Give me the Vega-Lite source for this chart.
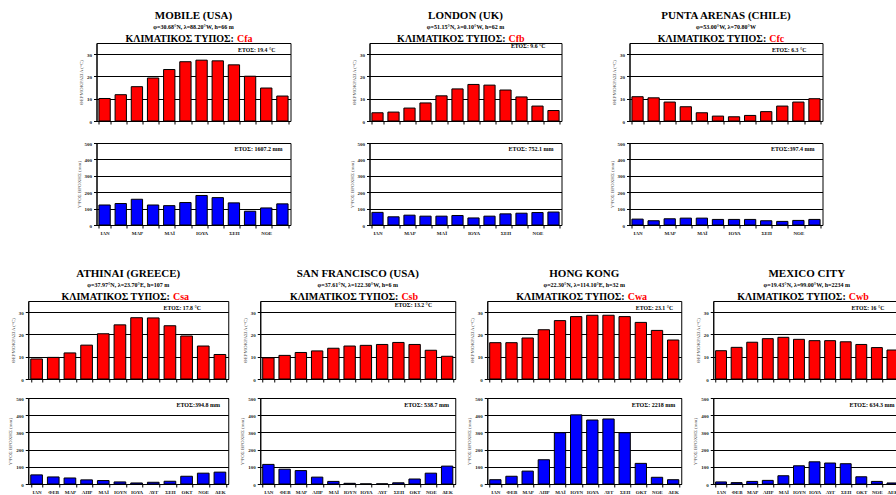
{
  "$schema": "https://vega.github.io/schema/vega-lite/v6.json",
  "padding": {"left": 7, "top": 9, "right": 0, "bottom": 0},
  "background": "white",
  "datasets": {
    "climate": [
      {"station": "MOB", "month": "ΙΑΝ", "temp": 10.1, "precip": 122},
      {"station": "MOB", "month": "ΦΕΒ", "temp": 11.8, "precip": 131},
      {"station": "MOB", "month": "ΜΑΡ", "temp": 15.4, "precip": 157},
      {"station": "MOB", "month": "ΑΠΡ", "temp": 19.3, "precip": 122},
      {"station": "MOB", "month": "ΜΑΪ", "temp": 23.1, "precip": 118},
      {"station": "MOB", "month": "ΙΟΥΝ", "temp": 26.6, "precip": 137},
      {"station": "MOB", "month": "ΙΟΥΛ", "temp": 27.3, "precip": 180},
      {"station": "MOB", "month": "ΑΥΓ", "temp": 27.0, "precip": 167},
      {"station": "MOB", "month": "ΣΕΠ", "temp": 25.2, "precip": 135},
      {"station": "MOB", "month": "ΟΚΤ", "temp": 20.1, "precip": 84},
      {"station": "MOB", "month": "ΝΟΕ", "temp": 14.8, "precip": 104},
      {"station": "MOB", "month": "ΔΕΚ", "temp": 11.2, "precip": 129},
      {"station": "LON", "month": "ΙΑΝ", "temp": 3.7, "precip": 77},
      {"station": "LON", "month": "ΦΕΒ", "temp": 4.0, "precip": 50},
      {"station": "LON", "month": "ΜΑΡ", "temp": 5.8, "precip": 60},
      {"station": "LON", "month": "ΑΠΡ", "temp": 8.1, "precip": 54},
      {"station": "LON", "month": "ΜΑΪ", "temp": 11.3, "precip": 54},
      {"station": "LON", "month": "ΙΟΥΝ", "temp": 14.4, "precip": 58},
      {"station": "LON", "month": "ΙΟΥΛ", "temp": 16.4, "precip": 43},
      {"station": "LON", "month": "ΑΥΓ", "temp": 16.1, "precip": 54},
      {"station": "LON", "month": "ΣΕΠ", "temp": 13.9, "precip": 68},
      {"station": "LON", "month": "ΟΚΤ", "temp": 10.8, "precip": 72},
      {"station": "LON", "month": "ΝΟΕ", "temp": 6.7, "precip": 76},
      {"station": "LON", "month": "ΔΕΚ", "temp": 4.7, "precip": 79},
      {"station": "PUN", "month": "ΙΑΝ", "temp": 10.9, "precip": 36},
      {"station": "PUN", "month": "ΦΕΒ", "temp": 10.4, "precip": 26},
      {"station": "PUN", "month": "ΜΑΡ", "temp": 8.5, "precip": 38},
      {"station": "PUN", "month": "ΑΠΡ", "temp": 6.4, "precip": 42},
      {"station": "PUN", "month": "ΜΑΪ", "temp": 3.7, "precip": 42},
      {"station": "PUN", "month": "ΙΟΥΝ", "temp": 2.2, "precip": 34},
      {"station": "PUN", "month": "ΙΟΥΛ", "temp": 1.9, "precip": 34},
      {"station": "PUN", "month": "ΑΥΓ", "temp": 2.5, "precip": 34},
      {"station": "PUN", "month": "ΣΕΠ", "temp": 4.2, "precip": 26},
      {"station": "PUN", "month": "ΟΚΤ", "temp": 6.7, "precip": 22},
      {"station": "PUN", "month": "ΝΟΕ", "temp": 8.5, "precip": 28},
      {"station": "PUN", "month": "ΔΕΚ", "temp": 10.0, "precip": 34},
      {"station": "ATH", "month": "ΙΑΝ", "temp": 9.0, "precip": 53},
      {"station": "ATH", "month": "ΦΕΒ", "temp": 9.7, "precip": 41},
      {"station": "ATH", "month": "ΜΑΡ", "temp": 11.7, "precip": 35},
      {"station": "ATH", "month": "ΑΠΡ", "temp": 15.2, "precip": 24},
      {"station": "ATH", "month": "ΜΑΪ", "temp": 20.3, "precip": 20},
      {"station": "ATH", "month": "ΙΟΥΝ", "temp": 24.3, "precip": 12},
      {"station": "ATH", "month": "ΙΟΥΛ", "temp": 27.5, "precip": 6},
      {"station": "ATH", "month": "ΑΥΓ", "temp": 27.4, "precip": 10},
      {"station": "ATH", "month": "ΣΕΠ", "temp": 23.9, "precip": 16},
      {"station": "ATH", "month": "ΟΚΤ", "temp": 19.3, "precip": 45},
      {"station": "ATH", "month": "ΝΟΕ", "temp": 14.8, "precip": 63},
      {"station": "ATH", "month": "ΔΕΚ", "temp": 11.0, "precip": 69},
      {"station": "SFO", "month": "ΙΑΝ", "temp": 9.5, "precip": 114},
      {"station": "SFO", "month": "ΦΕΒ", "temp": 10.6, "precip": 86},
      {"station": "SFO", "month": "ΜΑΡ", "temp": 11.9, "precip": 78},
      {"station": "SFO", "month": "ΑΠΡ", "temp": 12.6, "precip": 40},
      {"station": "SFO", "month": "ΜΑΪ", "temp": 13.8, "precip": 15},
      {"station": "SFO", "month": "ΙΟΥΝ", "temp": 14.8, "precip": 4},
      {"station": "SFO", "month": "ΙΟΥΛ", "temp": 15.1, "precip": 0.5},
      {"station": "SFO", "month": "ΑΥΓ", "temp": 15.5, "precip": 1},
      {"station": "SFO", "month": "ΣΕΠ", "temp": 16.4, "precip": 7},
      {"station": "SFO", "month": "ΟΚΤ", "temp": 15.5, "precip": 29},
      {"station": "SFO", "month": "ΝΟΕ", "temp": 12.9, "precip": 63},
      {"station": "SFO", "month": "ΔΕΚ", "temp": 10.2, "precip": 104},
      {"station": "HKG", "month": "ΙΑΝ", "temp": 16.3, "precip": 25},
      {"station": "HKG", "month": "ΦΕΒ", "temp": 16.3, "precip": 45},
      {"station": "HKG", "month": "ΜΑΡ", "temp": 18.4, "precip": 75},
      {"station": "HKG", "month": "ΑΠΡ", "temp": 22.1, "precip": 141},
      {"station": "HKG", "month": "ΜΑΪ", "temp": 26.2, "precip": 298},
      {"station": "HKG", "month": "ΙΟΥΝ", "temp": 28.0, "precip": 402},
      {"station": "HKG", "month": "ΙΟΥΛ", "temp": 28.6, "precip": 372},
      {"station": "HKG", "month": "ΑΥΓ", "temp": 28.6, "precip": 378},
      {"station": "HKG", "month": "ΣΕΠ", "temp": 28.0, "precip": 298},
      {"station": "HKG", "month": "ΟΚΤ", "temp": 25.4, "precip": 120},
      {"station": "HKG", "month": "ΝΟΕ", "temp": 21.8, "precip": 39},
      {"station": "HKG", "month": "ΔΕΚ", "temp": 17.5, "precip": 25},
      {"station": "MEX", "month": "ΙΑΝ", "temp": 12.7, "precip": 12},
      {"station": "MEX", "month": "ΦΕΒ", "temp": 14.2, "precip": 8},
      {"station": "MEX", "month": "ΜΑΡ", "temp": 16.5, "precip": 15},
      {"station": "MEX", "month": "ΑΠΡ", "temp": 18.1, "precip": 21},
      {"station": "MEX", "month": "ΜΑΪ", "temp": 18.7, "precip": 48},
      {"station": "MEX", "month": "ΙΟΥΝ", "temp": 17.8, "precip": 106},
      {"station": "MEX", "month": "ΙΟΥΛ", "temp": 17.2, "precip": 129},
      {"station": "MEX", "month": "ΑΥΓ", "temp": 17.2, "precip": 122},
      {"station": "MEX", "month": "ΣΕΠ", "temp": 16.7, "precip": 118},
      {"station": "MEX", "month": "ΟΚΤ", "temp": 15.5, "precip": 42},
      {"station": "MEX", "month": "ΝΟΕ", "temp": 14.1, "precip": 15},
      {"station": "MEX", "month": "ΔΕΚ", "temp": 13.0, "precip": 6}
    ],
    "info": [
      {"station": "MOB", "code": "Cfa", "tYear": "ΕΤΟΣ: 19.4 °C", "pYear": "ΕΤΟΣ: 1607.2 mm"},
      {"station": "LON", "code": "Cfb", "tYear": "ΕΤΟΣ: 9.6 °C", "pYear": "ΕΤΟΣ: 752.1 mm"},
      {"station": "PUN", "code": "Cfc", "tYear": "ΕΤΟΣ: 6.3 °C", "pYear": "ΕΤΟΣ:397.4 mm"},
      {"station": "ATH", "code": "Csa", "tYear": "ΕΤΟΣ: 17.8 °C", "pYear": "ΕΤΟΣ:394.8 mm"},
      {"station": "SFO", "code": "Csb", "tYear": "ΕΤΟΣ: 13.2 °C", "pYear": "ΕΤΟΣ: 538.7 mm"},
      {"station": "HKG", "code": "Cwa", "tYear": "ΕΤΟΣ: 23.1 °C", "pYear": "ΕΤΟΣ: 2218 mm"},
      {"station": "MEX", "code": "Cwb", "tYear": "ΕΤΟΣ: 16 °C", "pYear": "ΕΤΟΣ: 634.3 mm"}
    ]
  },
  "spacing": 31,
  "center": true,
  "vconcat": [
    {
      "spacing": 57,
      "hconcat": [
        {
          "spacing": 15,
          "vconcat": [
            {
              "width": 194, "height": 78,
              "title": {"text": "MOBILE (USA)", "subtitle": "φ=30.68°N, λ=88.20°W, h=66 m"},
              "layer": [
                {"data": {"name": "climate"}, "transform": [{"filter": "datum.station === 'MOB'"}],
                 "mark": {"type": "bar", "fill": "#ff0000", "stroke": "#000", "strokeWidth": 1},
                 "encoding": {
                   "x": {"field": "month", "type": "nominal", "scale": {"domain": ["ΙΑΝ","ΦΕΒ","ΜΑΡ","ΑΠΡ","ΜΑΪ","ΙΟΥΝ","ΙΟΥΛ","ΑΥΓ","ΣΕΠ","ΟΚΤ","ΝΟΕ","ΔΕΚ"], "paddingInner": 0.3, "paddingOuter": 0.15}, "axis": {"labels": false, "title": null}},
                   "y": {"field": "temp", "type": "quantitative", "scale": {"domain": [0, 35], "nice": false}, "axis": {"values": [0, 10, 20, 30], "tickCount": 20, "title": "ΘΕΡΜΟΚΡΑΣΙΑ (°C)"}}
                 }},
                {"data": {"name": "info"}, "transform": [{"filter": "datum.station === 'MOB'"}],
                 "mark": {"type": "text", "align": "right", "baseline": "alphabetic", "dy": -1, "fontSize": 10, "fontWeight": "bold"},
                 "encoding": {"x": {"datum": "ΣΕΠ"}, "y": {"datum": 35}, "text": {"value": "ΚΛΙΜΑΤΙΚΟΣ ΤΥΠΟΣ:"}}},
                {"data": {"name": "info"}, "transform": [{"filter": "datum.station === 'MOB'"}],
                 "mark": {"type": "text", "align": "left", "baseline": "alphabetic", "dx": 3, "dy": -1, "fontSize": 10, "fontWeight": "bold", "color": "#ff0000"},
                 "encoding": {"x": {"datum": "ΣΕΠ"}, "y": {"datum": 35}, "text": {"field": "code"}}},
                {"data": {"name": "info"}, "transform": [{"filter": "datum.station === 'MOB'"}],
                 "mark": {"type": "text", "align": "right", "baseline": "middle", "dx": -7, "fontSize": 5.8, "fontWeight": "bold"},
                 "encoding": {"x": {"datum": "ΔΕΚ"}, "y": {"datum": 32}, "text": {"field": "tYear"}}}
              ]
            },
            {
              "width": 194, "height": 82,
              "layer": [
                {"data": {"name": "climate"}, "transform": [{"filter": "datum.station === 'MOB'"}],
                 "mark": {"type": "bar", "fill": "#0000ff", "stroke": "#000", "strokeWidth": 1},
                 "encoding": {
                   "x": {"field": "month", "type": "nominal", "scale": {"domain": ["ΙΑΝ","ΦΕΒ","ΜΑΡ","ΑΠΡ","ΜΑΪ","ΙΟΥΝ","ΙΟΥΛ","ΑΥΓ","ΣΕΠ","ΟΚΤ","ΝΟΕ","ΔΕΚ"], "paddingInner": 0.3, "paddingOuter": 0.15}, "axis": {"title": null, "labelExpr": "indexof(['ΙΑΝ','ΜΑΡ','ΜΑΪ','ΙΟΥΛ','ΣΕΠ','ΝΟΕ'], datum.value) >= 0 ? datum.value : ''"}},
                   "y": {"field": "precip", "type": "quantitative", "scale": {"domain": [0, 500], "nice": false}, "axis": {"values": [0, 100, 200, 300, 400, 500], "tickCount": 20, "title": "ΥΨΟΣ ΒΡΟΧΗΣ (mm)"}}
                 }},
                {"data": {"name": "info"}, "transform": [{"filter": "datum.station === 'MOB'"}],
                 "mark": {"type": "text", "align": "right", "baseline": "middle", "dx": 0, "fontSize": 6, "fontWeight": "bold"},
                 "encoding": {"x": {"datum": "ΔΕΚ"}, "y": {"datum": 462}, "text": {"field": "pYear"}}}
              ]
            }
          ]
        },
        {
          "spacing": 46,
          "hconcat": [
            {
              "spacing": 15,
              "vconcat": [
                {
                  "width": 192, "height": 78,
                  "title": {"text": "LONDON (UK)", "subtitle": "φ=51.15°N, λ=0.10°W, h=62 m"},
                  "layer": [
                    {"data": {"name": "climate"}, "transform": [{"filter": "datum.station === 'LON'"}],
                     "mark": {"type": "bar", "fill": "#ff0000", "stroke": "#000", "strokeWidth": 1},
                     "encoding": {
                       "x": {"field": "month", "type": "nominal", "scale": {"domain": ["ΙΑΝ","ΦΕΒ","ΜΑΡ","ΑΠΡ","ΜΑΪ","ΙΟΥΝ","ΙΟΥΛ","ΑΥΓ","ΣΕΠ","ΟΚΤ","ΝΟΕ","ΔΕΚ"], "paddingInner": 0.3, "paddingOuter": 0.15}, "axis": {"labels": false, "title": null}},
                       "y": {"field": "temp", "type": "quantitative", "scale": {"domain": [0, 35], "nice": false}, "axis": {"values": [0, 10, 20, 30], "tickCount": 20, "title": "ΘΕΡΜΟΚΡΑΣΙΑ (°C)"}}
                     }},
                    {"data": {"name": "info"}, "transform": [{"filter": "datum.station === 'LON'"}],
                     "mark": {"type": "text", "align": "right", "baseline": "alphabetic", "dy": -1, "fontSize": 10, "fontWeight": "bold"},
                     "encoding": {"x": {"datum": "ΣΕΠ"}, "y": {"datum": 35}, "text": {"value": "ΚΛΙΜΑΤΙΚΟΣ ΤΥΠΟΣ:"}}},
                    {"data": {"name": "info"}, "transform": [{"filter": "datum.station === 'LON'"}],
                     "mark": {"type": "text", "align": "left", "baseline": "alphabetic", "dx": 3, "dy": -1, "fontSize": 10, "fontWeight": "bold", "color": "#ff0000"},
                     "encoding": {"x": {"datum": "ΣΕΠ"}, "y": {"datum": 35}, "text": {"field": "code"}}},
                    {"data": {"name": "info"}, "transform": [{"filter": "datum.station === 'LON'"}],
                     "mark": {"type": "text", "align": "right", "baseline": "middle", "dx": -8, "fontSize": 5.8, "fontWeight": "bold"},
                     "encoding": {"x": {"datum": "ΔΕΚ"}, "y": {"datum": 33.5}, "text": {"field": "tYear"}}}
                  ]
                },
                {
                  "width": 192, "height": 82,
                  "layer": [
                    {"data": {"name": "climate"}, "transform": [{"filter": "datum.station === 'LON'"}],
                     "mark": {"type": "bar", "fill": "#0000ff", "stroke": "#000", "strokeWidth": 1},
                     "encoding": {
                       "x": {"field": "month", "type": "nominal", "scale": {"domain": ["ΙΑΝ","ΦΕΒ","ΜΑΡ","ΑΠΡ","ΜΑΪ","ΙΟΥΝ","ΙΟΥΛ","ΑΥΓ","ΣΕΠ","ΟΚΤ","ΝΟΕ","ΔΕΚ"], "paddingInner": 0.3, "paddingOuter": 0.15}, "axis": {"title": null, "labelExpr": "indexof(['ΙΑΝ','ΜΑΡ','ΜΑΪ','ΙΟΥΛ','ΣΕΠ','ΝΟΕ'], datum.value) >= 0 ? datum.value : ''"}},
                       "y": {"field": "precip", "type": "quantitative", "scale": {"domain": [0, 500], "nice": false}, "axis": {"values": [0, 100, 200, 300, 400, 500], "tickCount": 20, "title": "ΥΨΟΣ ΒΡΟΧΗΣ (mm)"}}
                     }},
                    {"data": {"name": "info"}, "transform": [{"filter": "datum.station === 'LON'"}],
                     "mark": {"type": "text", "align": "right", "baseline": "middle", "dx": 0, "fontSize": 6, "fontWeight": "bold"},
                     "encoding": {"x": {"datum": "ΔΕΚ"}, "y": {"datum": 462}, "text": {"field": "pYear"}}}
                  ]
                }
              ]
            },
            {
              "spacing": 0,
              "hconcat": [
                {
                  "spacing": 15,
                  "vconcat": [
                    {
                      "width": 193, "height": 78,
                      "title": {"text": "PUNTA ARENAS (CHILE)", "subtitle": "φ=53.00°W, λ=70.80°W"},
                      "layer": [
                        {"data": {"name": "climate"}, "transform": [{"filter": "datum.station === 'PUN'"}],
                         "mark": {"type": "bar", "fill": "#ff0000", "stroke": "#000", "strokeWidth": 1},
                         "encoding": {
                           "x": {"field": "month", "type": "nominal", "scale": {"domain": ["ΙΑΝ","ΦΕΒ","ΜΑΡ","ΑΠΡ","ΜΑΪ","ΙΟΥΝ","ΙΟΥΛ","ΑΥΓ","ΣΕΠ","ΟΚΤ","ΝΟΕ","ΔΕΚ"], "paddingInner": 0.3, "paddingOuter": 0.15}, "axis": {"labels": false, "title": null}},
                           "y": {"field": "temp", "type": "quantitative", "scale": {"domain": [0, 35], "nice": false}, "axis": {"values": [0, 10, 20, 30], "tickCount": 20, "title": "ΘΕΡΜΟΚΡΑΣΙΑ (°C)"}}
                         }},
                        {"data": {"name": "info"}, "transform": [{"filter": "datum.station === 'PUN'"}],
                         "mark": {"type": "text", "align": "right", "baseline": "alphabetic", "dy": -1, "fontSize": 10, "fontWeight": "bold"},
                         "encoding": {"x": {"datum": "ΣΕΠ"}, "y": {"datum": 35}, "text": {"value": "ΚΛΙΜΑΤΙΚΟΣ ΤΥΠΟΣ:"}}},
                        {"data": {"name": "info"}, "transform": [{"filter": "datum.station === 'PUN'"}],
                         "mark": {"type": "text", "align": "left", "baseline": "alphabetic", "dx": 3, "dy": -1, "fontSize": 10, "fontWeight": "bold", "color": "#ff0000"},
                         "encoding": {"x": {"datum": "ΣΕΠ"}, "y": {"datum": 35}, "text": {"field": "code"}}},
                        {"data": {"name": "info"}, "transform": [{"filter": "datum.station === 'PUN'"}],
                         "mark": {"type": "text", "align": "right", "baseline": "middle", "dx": -8, "fontSize": 5.8, "fontWeight": "bold"},
                         "encoding": {"x": {"datum": "ΔΕΚ"}, "y": {"datum": 32}, "text": {"field": "tYear"}}}
                      ]
                    },
                    {
                      "width": 193, "height": 82,
                      "layer": [
                        {"data": {"name": "climate"}, "transform": [{"filter": "datum.station === 'PUN'"}],
                         "mark": {"type": "bar", "fill": "#0000ff", "stroke": "#000", "strokeWidth": 1},
                         "encoding": {
                           "x": {"field": "month", "type": "nominal", "scale": {"domain": ["ΙΑΝ","ΦΕΒ","ΜΑΡ","ΑΠΡ","ΜΑΪ","ΙΟΥΝ","ΙΟΥΛ","ΑΥΓ","ΣΕΠ","ΟΚΤ","ΝΟΕ","ΔΕΚ"], "paddingInner": 0.3, "paddingOuter": 0.15}, "axis": {"title": null, "labelExpr": "indexof(['ΙΑΝ','ΜΑΡ','ΜΑΪ','ΙΟΥΛ','ΣΕΠ','ΝΟΕ'], datum.value) >= 0 ? datum.value : ''"}},
                           "y": {"field": "precip", "type": "quantitative", "scale": {"domain": [0, 500], "nice": false}, "axis": {"values": [0, 100, 200, 300, 400, 500], "tickCount": 20, "title": "ΥΨΟΣ ΒΡΟΧΗΣ (mm)"}}
                         }},
                        {"data": {"name": "info"}, "transform": [{"filter": "datum.station === 'PUN'"}],
                         "mark": {"type": "text", "align": "right", "baseline": "middle", "dx": 0, "fontSize": 6, "fontWeight": "bold"},
                         "encoding": {"x": {"datum": "ΔΕΚ"}, "y": {"datum": 462}, "text": {"field": "pYear"}}}
                      ]
                    }
                  ]
                },
                {
                  "width": 9, "height": 10,
                  "view": {"stroke": null},
                  "data": {"values": []},
                  "mark": {"type": "point", "opacity": 0}
                }
              ]
            }
          ]
        }
      ]
    },
    {
      "spacing": 10,
      "hconcat": [
        {
          "spacing": 12,
          "vconcat": [
            {
              "width": 200, "height": 78,
              "title": {"text": "ATHINAI (GREECE)", "subtitle": "φ=37.97°N, λ=23.70°E, h=107 m"},
              "layer": [
                {"data": {"name": "climate"}, "transform": [{"filter": "datum.station === 'ATH'"}],
                 "mark": {"type": "bar", "fill": "#ff0000", "stroke": "#000", "strokeWidth": 1},
                 "encoding": {
                   "x": {"field": "month", "type": "nominal", "scale": {"domain": ["ΙΑΝ","ΦΕΒ","ΜΑΡ","ΑΠΡ","ΜΑΪ","ΙΟΥΝ","ΙΟΥΛ","ΑΥΓ","ΣΕΠ","ΟΚΤ","ΝΟΕ","ΔΕΚ"], "paddingInner": 0.3, "paddingOuter": 0.15}, "axis": {"labels": false, "title": null}},
                   "y": {"field": "temp", "type": "quantitative", "scale": {"domain": [0, 35], "nice": false}, "axis": {"values": [0, 10, 20, 30], "tickCount": 20, "title": "ΘΕΡΜΟΚΡΑΣΙΑ (°C)"}}
                 }},
                {"data": {"name": "info"}, "transform": [{"filter": "datum.station === 'ATH'"}],
                 "mark": {"type": "text", "align": "right", "baseline": "alphabetic", "dy": -1, "fontSize": 10, "fontWeight": "bold"},
                 "encoding": {"x": {"datum": "ΣΕΠ"}, "y": {"datum": 35}, "text": {"value": "ΚΛΙΜΑΤΙΚΟΣ ΤΥΠΟΣ:"}}},
                {"data": {"name": "info"}, "transform": [{"filter": "datum.station === 'ATH'"}],
                 "mark": {"type": "text", "align": "left", "baseline": "alphabetic", "dx": 3, "dy": -1, "fontSize": 10, "fontWeight": "bold", "color": "#ff0000"},
                 "encoding": {"x": {"datum": "ΣΕΠ"}, "y": {"datum": 35}, "text": {"field": "code"}}},
                {"data": {"name": "info"}, "transform": [{"filter": "datum.station === 'ATH'"}],
                 "mark": {"type": "text", "align": "right", "baseline": "middle", "dx": -19, "fontSize": 5.8, "fontWeight": "bold"},
                 "encoding": {"x": {"datum": "ΔΕΚ"}, "y": {"datum": 32}, "text": {"field": "tYear"}}}
              ]
            },
            {
              "width": 200, "height": 86,
              "layer": [
                {"data": {"name": "climate"}, "transform": [{"filter": "datum.station === 'ATH'"}],
                 "mark": {"type": "bar", "fill": "#0000ff", "stroke": "#000", "strokeWidth": 1},
                 "encoding": {
                   "x": {"field": "month", "type": "nominal", "scale": {"domain": ["ΙΑΝ","ΦΕΒ","ΜΑΡ","ΑΠΡ","ΜΑΪ","ΙΟΥΝ","ΙΟΥΛ","ΑΥΓ","ΣΕΠ","ΟΚΤ","ΝΟΕ","ΔΕΚ"], "paddingInner": 0.3, "paddingOuter": 0.15}, "axis": {"title": null}},
                   "y": {"field": "precip", "type": "quantitative", "scale": {"domain": [0, 500], "nice": false}, "axis": {"values": [0, 100, 200, 300, 400, 500], "tickCount": 20, "title": "ΥΨΟΣ ΒΡΟΧΗΣ (mm)"}}
                 }},
                {"data": {"name": "info"}, "transform": [{"filter": "datum.station === 'ATH'"}],
                 "mark": {"type": "text", "align": "right", "baseline": "middle", "dx": 0, "fontSize": 6, "fontWeight": "bold"},
                 "encoding": {"x": {"datum": "ΔΕΚ"}, "y": {"datum": 462}, "text": {"field": "pYear"}}}
              ]
            }
          ]
        },
        {
          "spacing": 12,
          "vconcat": [
            {
              "width": 195, "height": 78,
              "title": {"text": "SAN FRANCISCO (USA)", "subtitle": "φ=37.61°N, λ=122.30°W, h=6 m"},
              "layer": [
                {"data": {"name": "climate"}, "transform": [{"filter": "datum.station === 'SFO'"}],
                 "mark": {"type": "bar", "fill": "#ff0000", "stroke": "#000", "strokeWidth": 1},
                 "encoding": {
                   "x": {"field": "month", "type": "nominal", "scale": {"domain": ["ΙΑΝ","ΦΕΒ","ΜΑΡ","ΑΠΡ","ΜΑΪ","ΙΟΥΝ","ΙΟΥΛ","ΑΥΓ","ΣΕΠ","ΟΚΤ","ΝΟΕ","ΔΕΚ"], "paddingInner": 0.3, "paddingOuter": 0.15}, "axis": {"labels": false, "title": null}},
                   "y": {"field": "temp", "type": "quantitative", "scale": {"domain": [0, 35], "nice": false}, "axis": {"values": [0, 10, 20, 30], "tickCount": 20, "title": "ΘΕΡΜΟΚΡΑΣΙΑ (°C)"}}
                 }},
                {"data": {"name": "info"}, "transform": [{"filter": "datum.station === 'SFO'"}],
                 "mark": {"type": "text", "align": "right", "baseline": "alphabetic", "dy": -1, "fontSize": 10, "fontWeight": "bold"},
                 "encoding": {"x": {"datum": "ΣΕΠ"}, "y": {"datum": 35}, "text": {"value": "ΚΛΙΜΑΤΙΚΟΣ ΤΥΠΟΣ:"}}},
                {"data": {"name": "info"}, "transform": [{"filter": "datum.station === 'SFO'"}],
                 "mark": {"type": "text", "align": "left", "baseline": "alphabetic", "dx": 3, "dy": -1, "fontSize": 10, "fontWeight": "bold", "color": "#ff0000"},
                 "encoding": {"x": {"datum": "ΣΕΠ"}, "y": {"datum": 35}, "text": {"field": "code"}}},
                {"data": {"name": "info"}, "transform": [{"filter": "datum.station === 'SFO'"}],
                 "mark": {"type": "text", "align": "right", "baseline": "middle", "dx": -15, "fontSize": 5.8, "fontWeight": "bold"},
                 "encoding": {"x": {"datum": "ΔΕΚ"}, "y": {"datum": 33}, "text": {"field": "tYear"}}}
              ]
            },
            {
              "width": 195, "height": 86,
              "layer": [
                {"data": {"name": "climate"}, "transform": [{"filter": "datum.station === 'SFO'"}],
                 "mark": {"type": "bar", "fill": "#0000ff", "stroke": "#000", "strokeWidth": 1},
                 "encoding": {
                   "x": {"field": "month", "type": "nominal", "scale": {"domain": ["ΙΑΝ","ΦΕΒ","ΜΑΡ","ΑΠΡ","ΜΑΪ","ΙΟΥΝ","ΙΟΥΛ","ΑΥΓ","ΣΕΠ","ΟΚΤ","ΝΟΕ","ΔΕΚ"], "paddingInner": 0.3, "paddingOuter": 0.15}, "axis": {"title": null}},
                   "y": {"field": "precip", "type": "quantitative", "scale": {"domain": [0, 500], "nice": false}, "axis": {"values": [0, 100, 200, 300, 400, 500], "tickCount": 20, "title": "ΥΨΟΣ ΒΡΟΧΗΣ (mm)"}}
                 }},
                {"data": {"name": "info"}, "transform": [{"filter": "datum.station === 'SFO'"}],
                 "mark": {"type": "text", "align": "right", "baseline": "middle", "dx": 2, "fontSize": 6, "fontWeight": "bold"},
                 "encoding": {"x": {"datum": "ΔΕΚ"}, "y": {"datum": 462}, "text": {"field": "pYear"}}}
              ]
            }
          ]
        },
        {
          "spacing": 12,
          "vconcat": [
            {
              "width": 194, "height": 78,
              "title": {"text": "HONG KONG", "subtitle": "φ=22.30°N, λ=114.10°E, h=32 m"},
              "layer": [
                {"data": {"name": "climate"}, "transform": [{"filter": "datum.station === 'HKG'"}],
                 "mark": {"type": "bar", "fill": "#ff0000", "stroke": "#000", "strokeWidth": 1},
                 "encoding": {
                   "x": {"field": "month", "type": "nominal", "scale": {"domain": ["ΙΑΝ","ΦΕΒ","ΜΑΡ","ΑΠΡ","ΜΑΪ","ΙΟΥΝ","ΙΟΥΛ","ΑΥΓ","ΣΕΠ","ΟΚΤ","ΝΟΕ","ΔΕΚ"], "paddingInner": 0.3, "paddingOuter": 0.15}, "axis": {"labels": false, "title": null}},
                   "y": {"field": "temp", "type": "quantitative", "scale": {"domain": [0, 35], "nice": false}, "axis": {"values": [0, 10, 20, 30], "tickCount": 20, "title": "ΘΕΡΜΟΚΡΑΣΙΑ (°C)"}}
                 }},
                {"data": {"name": "info"}, "transform": [{"filter": "datum.station === 'HKG'"}],
                 "mark": {"type": "text", "align": "right", "baseline": "alphabetic", "dy": -1, "fontSize": 10, "fontWeight": "bold"},
                 "encoding": {"x": {"datum": "ΣΕΠ"}, "y": {"datum": 35}, "text": {"value": "ΚΛΙΜΑΤΙΚΟΣ ΤΥΠΟΣ:"}}},
                {"data": {"name": "info"}, "transform": [{"filter": "datum.station === 'HKG'"}],
                 "mark": {"type": "text", "align": "left", "baseline": "alphabetic", "dx": 3, "dy": -1, "fontSize": 10, "fontWeight": "bold", "color": "#ff0000"},
                 "encoding": {"x": {"datum": "ΣΕΠ"}, "y": {"datum": 35}, "text": {"field": "code"}}},
                {"data": {"name": "info"}, "transform": [{"filter": "datum.station === 'HKG'"}],
                 "mark": {"type": "text", "align": "right", "baseline": "middle", "dx": 0, "fontSize": 5.8, "fontWeight": "bold"},
                 "encoding": {"x": {"datum": "ΔΕΚ"}, "y": {"datum": 32}, "text": {"field": "tYear"}}}
              ]
            },
            {
              "width": 194, "height": 86,
              "layer": [
                {"data": {"name": "climate"}, "transform": [{"filter": "datum.station === 'HKG'"}],
                 "mark": {"type": "bar", "fill": "#0000ff", "stroke": "#000", "strokeWidth": 1},
                 "encoding": {
                   "x": {"field": "month", "type": "nominal", "scale": {"domain": ["ΙΑΝ","ΦΕΒ","ΜΑΡ","ΑΠΡ","ΜΑΪ","ΙΟΥΝ","ΙΟΥΛ","ΑΥΓ","ΣΕΠ","ΟΚΤ","ΝΟΕ","ΔΕΚ"], "paddingInner": 0.3, "paddingOuter": 0.15}, "axis": {"title": null}},
                   "y": {"field": "precip", "type": "quantitative", "scale": {"domain": [0, 500], "nice": false}, "axis": {"values": [0, 100, 200, 300, 400, 500], "tickCount": 20, "title": "ΥΨΟΣ ΒΡΟΧΗΣ (mm)"}}
                 }},
                {"data": {"name": "info"}, "transform": [{"filter": "datum.station === 'HKG'"}],
                 "mark": {"type": "text", "align": "right", "baseline": "middle", "dx": 2, "fontSize": 6, "fontWeight": "bold"},
                 "encoding": {"x": {"datum": "ΔΕΚ"}, "y": {"datum": 460}, "text": {"field": "pYear"}}}
              ]
            }
          ]
        },
        {
          "spacing": 12,
          "vconcat": [
            {
              "width": 187, "height": 78,
              "title": {"text": "MEXICO CITY", "subtitle": "φ=19.43°N, λ=99.00°W, h=2234 m"},
              "layer": [
                {"data": {"name": "climate"}, "transform": [{"filter": "datum.station === 'MEX'"}],
                 "mark": {"type": "bar", "fill": "#ff0000", "stroke": "#000", "strokeWidth": 1},
                 "encoding": {
                   "x": {"field": "month", "type": "nominal", "scale": {"domain": ["ΙΑΝ","ΦΕΒ","ΜΑΡ","ΑΠΡ","ΜΑΪ","ΙΟΥΝ","ΙΟΥΛ","ΑΥΓ","ΣΕΠ","ΟΚΤ","ΝΟΕ","ΔΕΚ"], "paddingInner": 0.3, "paddingOuter": 0.15}, "axis": {"labels": false, "title": null}},
                   "y": {"field": "temp", "type": "quantitative", "scale": {"domain": [0, 35], "nice": false}, "axis": {"values": [0, 10, 20, 30], "tickCount": 20, "title": "ΘΕΡΜΟΚΡΑΣΙΑ (°C)"}}
                 }},
                {"data": {"name": "info"}, "transform": [{"filter": "datum.station === 'MEX'"}],
                 "mark": {"type": "text", "align": "right", "baseline": "alphabetic", "dy": -1, "fontSize": 10, "fontWeight": "bold"},
                 "encoding": {"x": {"datum": "ΣΕΠ"}, "y": {"datum": 35}, "text": {"value": "ΚΛΙΜΑΤΙΚΟΣ ΤΥΠΟΣ:"}}},
                {"data": {"name": "info"}, "transform": [{"filter": "datum.station === 'MEX'"}],
                 "mark": {"type": "text", "align": "left", "baseline": "alphabetic", "dx": 3, "dy": -1, "fontSize": 10, "fontWeight": "bold", "color": "#ff0000"},
                 "encoding": {"x": {"datum": "ΣΕΠ"}, "y": {"datum": 35}, "text": {"field": "code"}}},
                {"data": {"name": "info"}, "transform": [{"filter": "datum.station === 'MEX'"}],
                 "mark": {"type": "text", "align": "right", "baseline": "middle", "dx": -8, "fontSize": 5.8, "fontWeight": "bold"},
                 "encoding": {"x": {"datum": "ΔΕΚ"}, "y": {"datum": 32}, "text": {"field": "tYear"}}}
              ]
            },
            {
              "width": 187, "height": 86,
              "layer": [
                {"data": {"name": "climate"}, "transform": [{"filter": "datum.station === 'MEX'"}],
                 "mark": {"type": "bar", "fill": "#0000ff", "stroke": "#000", "strokeWidth": 1},
                 "encoding": {
                   "x": {"field": "month", "type": "nominal", "scale": {"domain": ["ΙΑΝ","ΦΕΒ","ΜΑΡ","ΑΠΡ","ΜΑΪ","ΙΟΥΝ","ΙΟΥΛ","ΑΥΓ","ΣΕΠ","ΟΚΤ","ΝΟΕ","ΔΕΚ"], "paddingInner": 0.3, "paddingOuter": 0.15}, "axis": {"title": null}},
                   "y": {"field": "precip", "type": "quantitative", "scale": {"domain": [0, 500], "nice": false}, "axis": {"values": [0, 100, 200, 300, 400, 500], "tickCount": 20, "title": "ΥΨΟΣ ΒΡΟΧΗΣ (mm)"}}
                 }},
                {"data": {"name": "info"}, "transform": [{"filter": "datum.station === 'MEX'"}],
                 "mark": {"type": "text", "align": "right", "baseline": "middle", "dx": 2, "fontSize": 6, "fontWeight": "bold"},
                 "encoding": {"x": {"datum": "ΔΕΚ"}, "y": {"datum": 462}, "text": {"field": "pYear"}}}
              ]
            }
          ]
        }
      ]
    }
  ],
  "config": {
    "font": "Liberation Serif",
    "view": {"stroke": "#000", "strokeWidth": 1},
    "text": {"font": "Liberation Serif", "color": "#000"},
    "axis": {
      "labelFont": "Liberation Serif", "labelFontSize": 5, "labelFontWeight": "bold", "labelColor": "#222",
      "titleFont": "Liberation Serif", "titleFontSize": 5, "titleFontWeight": "normal", "titleColor": "#555",
      "domainColor": "#000", "tickColor": "#000", "tickSize": 3, "labelPadding": 2, "titlePadding": 3
    },
    "axisY": {"grid": true, "gridColor": "#000", "gridWidth": 1.2, "gridOpacity": 1, "labelOverlap": false},
    "axisX": {"grid": false, "tickBand": "extent", "labelAngle": 0, "labelOverlap": false},
    "title": {
      "font": "Liberation Serif", "fontSize": 11, "fontWeight": "bold", "color": "#000",
      "subtitleFont": "Liberation Serif", "subtitleFontSize": 6, "subtitleFontWeight": "bold", "subtitleColor": "#000",
      "subtitlePadding": 3, "offset": 4, "anchor": "middle"
    }
  }
}
